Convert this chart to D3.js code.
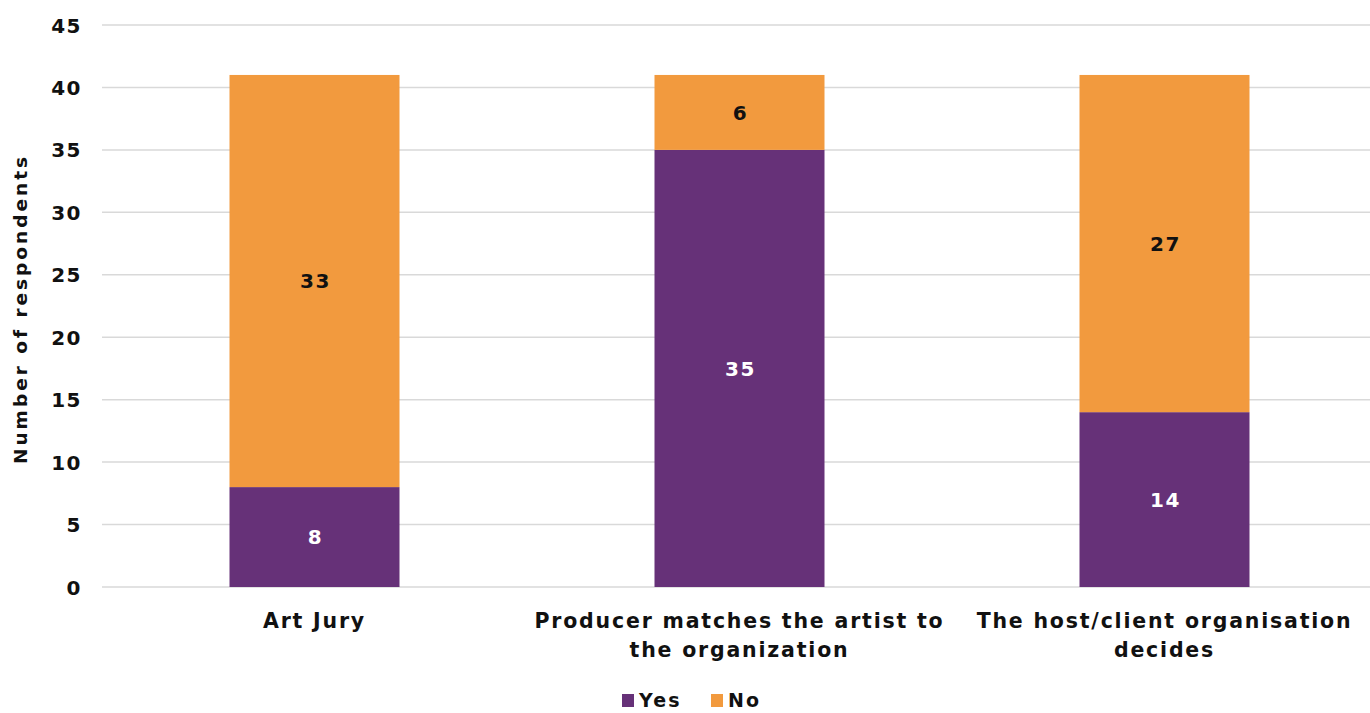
<!DOCTYPE html>
<html><head><meta charset="utf-8">
<script src="https://cdn.jsdelivr.net/npm/d3@7"></script>
<style>
html,body{margin:0;padding:0;background:#fff;}
svg{display:block;font-family:"DejaVu Sans",sans-serif;font-weight:700;}
</style></head>
<body>
<svg id="chart" width="1370" height="713"></svg>
<script>
const categories = [["Art Jury"], ["Producer matches the artist to", "the organization"], ["The host/client organisation", "decides"]];
const categoryKeys = ["Art Jury", "Producer matches the artist to the organization", "The host/client organisation decides"];
const yesValues = [8, 35, 14];
const noValues = [33, 6, 27];
const seriesNames = ["Yes", "No"];
const seriesColors = ["#663178", "#F29A3E"];
const labelColors = ["#ffffff", "#111111"];
const yTicks = [0, 5, 10, 15, 20, 25, 30, 35, 40, 45];

const svg = d3.select("#chart");
const plotLeft = 102, plotRight = 1377, plotTop = 25, plotBottom = 587;

const x = d3.scaleBand().domain(categoryKeys).range([plotLeft, plotRight]).paddingInner(0.6).paddingOuter(0.3);
const y = d3.scaleLinear().domain([0, 45]).range([plotBottom, plotTop]);

// gridlines
svg.append("g").selectAll("line").data(yTicks).join("line")
  .attr("x1", plotLeft).attr("x2", 1370)
  .attr("y1", d => y(d)).attr("y2", d => y(d))
  .attr("stroke", "#d9d9d9").attr("stroke-width", 1.5);

// y axis tick labels
const yAxis = d3.axisLeft(y).tickValues(yTicks).tickSize(0).tickPadding(0);
const gy = svg.append("g").attr("transform", `translate(${plotLeft - 20},0)`).call(yAxis);
gy.select(".domain").remove();
gy.selectAll("text").attr("font-size", 20).attr("font-family", "DejaVu Sans, sans-serif").attr("font-weight", 700).attr("fill", "#111").attr("dy", "0.35em").attr("letter-spacing", 1.5);

// y title
svg.append("text").attr("transform", `translate(27,${(plotTop + plotBottom) / 2 + 3}) rotate(-90)`)
  .attr("text-anchor", "middle").attr("font-size", 18.5).attr("fill", "#111").attr("letter-spacing", 3)
  .text("Number of respondents");

// stacked data
const rows = categoryKeys.map((k, i) => ({key: k, Yes: yesValues[i], No: noValues[i]}));
const stack = d3.stack().keys(seriesNames)(rows);

const gBars = svg.append("g");
stack.forEach((layer, si) => {
  gBars.append("g").selectAll("rect").data(layer).join("rect")
    .attr("x", d => x(d.data.key))
    .attr("width", x.bandwidth())
    .attr("y", d => y(d[1]))
    .attr("height", d => y(d[0]) - y(d[1]))
    .attr("fill", seriesColors[si]);
  gBars.append("g").selectAll("text").data(layer).join("text")
    .attr("x", d => x(d.data.key) + x.bandwidth() / 2 + 1)
    .attr("y", d => (y(d[0]) + y(d[1])) / 2)
    .attr("dy", "0.36em")
    .attr("text-anchor", "middle")
    .attr("font-size", 20).attr("fill", labelColors[si]).attr("letter-spacing", 1.5)
    .text(d => d[1] - d[0]);
});

// x labels
const xl = svg.append("g");
categoryKeys.forEach((k, i) => {
  const t = xl.append("text").attr("text-anchor", "middle").attr("font-size", 20.5).attr("fill", "#111").attr("letter-spacing", 1.8);
  categories[i].forEach((line, j) => {
    t.append("tspan").attr("x", x(k) + x.bandwidth() / 2).attr("y", 628 + j * 29).text(line);
  });
});

// legend
const legend = svg.append("g").attr("transform", "translate(622,700)");
const legX = [0, 89];
seriesNames.forEach((s, i) => {
  const g = legend.append("g").attr("transform", `translate(${legX[i]},0)`);
  g.append("rect").attr("x", 0).attr("y", -6).attr("width", 12).attr("height", 13).attr("fill", seriesColors[i]);
  g.append("text").attr("x", 17).attr("y", 0).attr("dy", "0.35em").attr("font-size", 19).attr("fill", "#111").attr("letter-spacing", 2.2).text(s);
});
</script>
</body></html>
